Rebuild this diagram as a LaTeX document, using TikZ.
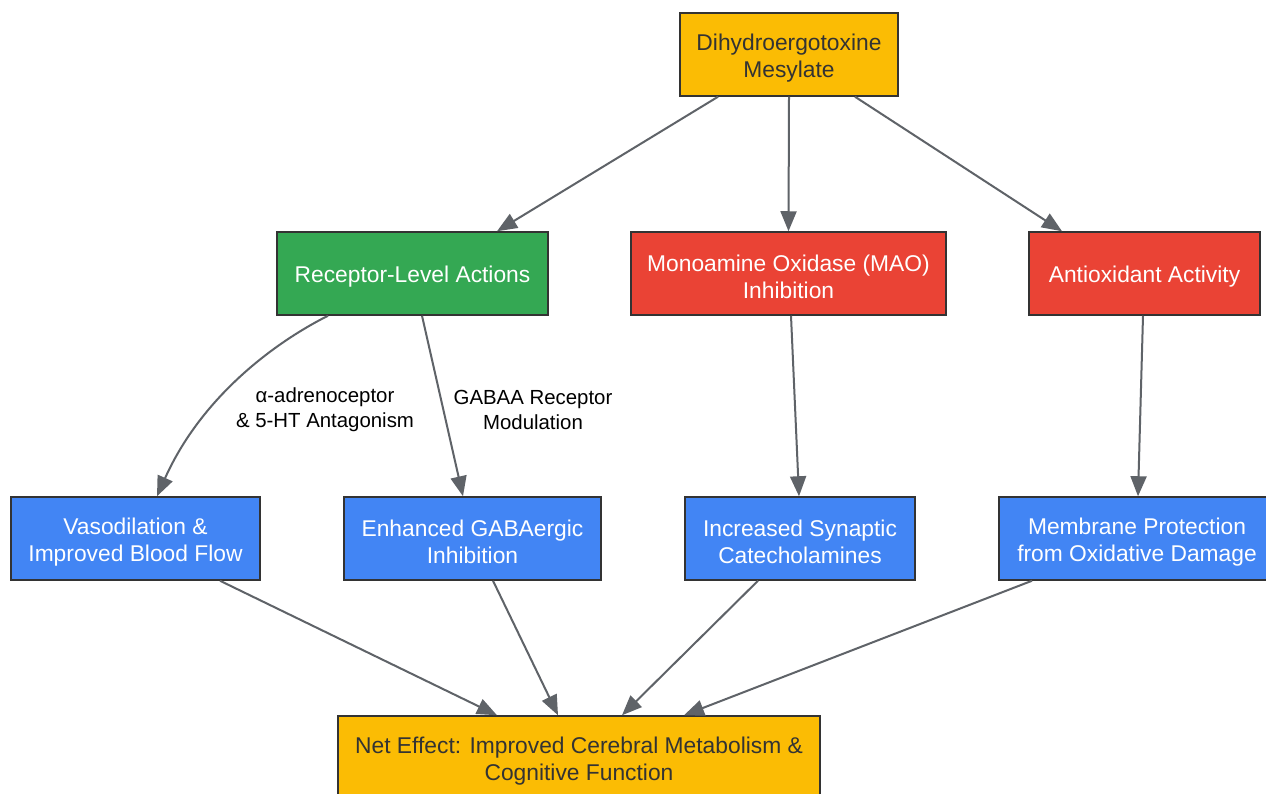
\documentclass[tikz,border=0pt]{standalone}
\usepackage{fontspec}
\setmainfont{Liberation Sans}
\usetikzlibrary{arrows.meta}
\definecolor{cyellow}{HTML}{FBBC04}
\definecolor{cgreen}{HTML}{34A853}
\definecolor{cred}{HTML}{EA4335}
\definecolor{cblue}{HTML}{4285F4}
\definecolor{cborder}{HTML}{333333}
\definecolor{carrow}{HTML}{5F6368}
\definecolor{ctext}{HTML}{333333}
\tikzset{
  box/.style={draw=cborder, line width=1.5pt, inner sep=0pt, minimum height=83pt},
  boxtext/.style={align=center, inner sep=0pt, yshift=-3.5pt, font=\fontsize{22.8}{27}\selectfont},
  ybox/.style={box, fill=cyellow, label={[boxtext, text=ctext]center:{#1}}},
  gbox/.style={box, fill=cgreen, label={[boxtext, text=white]center:{#1}}},
  rbox/.style={box, fill=cred, label={[boxtext, text=white]center:{#1}}},
  bbox/.style={box, fill=cblue, label={[boxtext, text=white]center:{#1}}},
  conn/.style={draw=carrow, line width=2pt, -{Triangle[length=20pt,width=16pt]}},
  elabel/.style={align=center, text=black, inner sep=0pt, font=\fontsize{20.4}{25}\selectfont},
}
\begin{document}
\begin{tikzpicture}[x=1pt, y=-1pt]
\useasboundingbox (0,0) rectangle (1266,794);
\clip (0,0) rectangle (1266,794);
\fill[white] (0,0) rectangle (1266,794);

\node[ybox={Dihydroergotoxine\\Mesylate}, minimum width=218pt] (top) at (789,54.5) {};
\node[gbox={Receptor-Level Actions}, minimum width=271pt] (rec) at (412.5,273.5) {};
\node[rbox={Monoamine Oxidase (MAO)\\Inhibition}, minimum width=315pt] (mao) at (788.5,273.5) {};
\node[rbox={Antioxidant Activity}, minimum width=231pt] (anti) at (1144.5,273.5) {};
\node[bbox={Vasodilation \&\\Improved Blood Flow}, minimum width=249pt] (vaso) at (135.5,538.5) {};
\node[bbox={Enhanced GABAergic\\Inhibition}, minimum width=257pt] (gaba) at (472.5,538.5) {};
\node[bbox={Increased Synaptic\\Catecholamines}, minimum width=230pt] (syn) at (800,538.5) {};
\node[bbox={Membrane Protection\\from Oxidative Damage}, minimum width=276pt] (mem) at (1137,538.5) {};
\node[ybox={Net Effect: Improved Cerebral Metabolism \&\\Cognitive Function}, minimum width=482pt] (net) at (579,757.5) {};

\draw[conn] ([xshift=-71pt]top.south) -- ([xshift=84.5pt]rec.north);
\draw[conn] (top.south) -- (mao.north);
\draw[conn] ([xshift=66pt]top.south) -- ([xshift=-82.5pt]anti.north);

\draw[conn] ([xshift=-84.5pt]rec.south) .. controls (270,345) and (200,400) .. ([xshift=21.5pt]vaso.north);
\draw[conn] ([xshift=9.5pt]rec.south) -- ([xshift=-9.5pt]gaba.north);
\draw[conn] ([xshift=2.5pt]mao.south) -- ([xshift=-1pt]syn.north);
\draw[conn] ([xshift=-1.5pt]anti.south) -- ([xshift=1pt]mem.north);

\node[elabel] (l1) at (325,410) {α-adrenoceptor\\\& 5-HT Antagonism};
\node[elabel] (l2) at (533,410) {GABAA Receptor\\Modulation};

\draw[conn] ([xshift=84.5pt]vaso.south) -- ([xshift=-82pt]net.north);
\draw[conn] ([xshift=20.5pt]gaba.south) -- ([xshift=-21pt]net.north);
\draw[conn] ([xshift=-42pt]syn.south) -- ([xshift=43pt]net.north);
\draw[conn] ([xshift=-105pt]mem.south) -- ([xshift=105pt]net.north);
\end{tikzpicture}
\end{document}
